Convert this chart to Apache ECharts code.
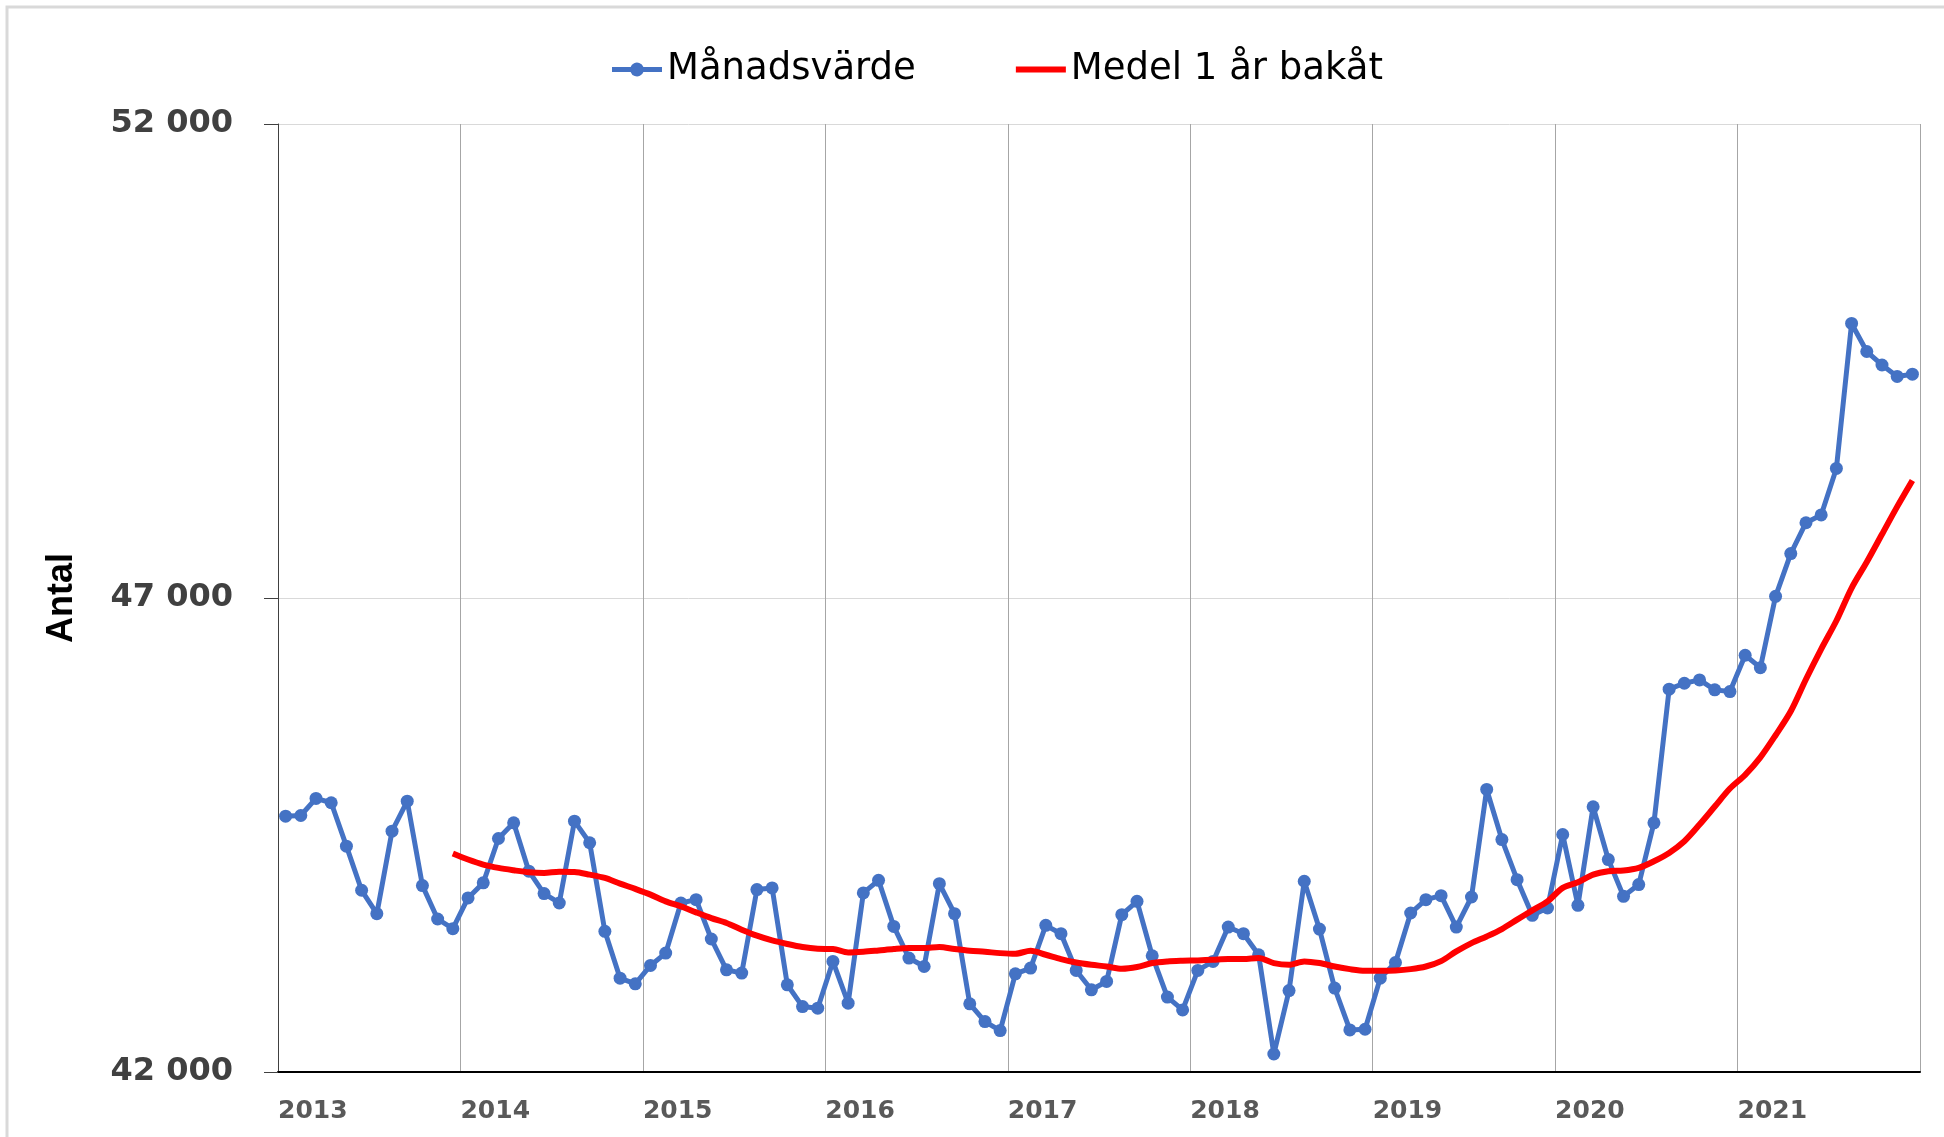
<!DOCTYPE html>
<html>
<head>
<meta charset="utf-8">
<script src="https://cdn.jsdelivr.net/npm/echarts@6/dist/echarts.min.js"></script>
<style>
html,body{margin:0;padding:0;background:#fff;}
#chart{width:1944px;height:1137px;}
</style>
</head>
<body>
<div id="chart"></div>
<script>
// Year tick labels (one per year boundary; last boundary is empty)
const yearLabels = ['2013','2014','2015','2016','2017','2018','2019','2020','2021',''];
const years = ['2013','2014','2015','2016','2017','2018','2019','2020','2021'];
const monthNames = ['jan','feb','mar','apr','maj','jun','jul','aug','sep','okt','nov','dec'];

// Månadsvärde (monthly values, Jan 2013 – Dec 2021)
const monthly2013 = [44699, 44706, 44886, 44840, 44382, 43917, 43670, 44540, 44857, 43966, 43614, 43512];
const monthly2014 = [43836, 43995, 44463, 44628, 44118, 43882, 43783, 44646, 44418, 43484, 42990, 42930];
const monthly2015 = [43124, 43254, 43783, 43818, 43403, 43078, 43043, 43924, 43942, 42920, 42690, 42673];
const monthly2016 = [43166, 42726, 43889, 44022, 43536, 43202, 43113, 43987, 43670, 42719, 42532, 42437];
const monthly2017 = [43036, 43096, 43547, 43459, 43071, 42867, 42955, 43660, 43800, 43226, 42790, 42655];
const monthly2018 = [43071, 43166, 43529, 43459, 43237, 42190, 42859, 44012, 43508, 42885, 42444, 42451];
const monthly2019 = [42990, 43155, 43677, 43818, 43860, 43529, 43846, 44981, 44452, 44029, 43653, 43730];
const monthly2020 = [44505, 43758, 44798, 44241, 43853, 43977, 44628, 46038, 46101, 46136, 46031, 46013];
const monthly2021 = [46396, 46265, 47018, 47469, 47794, 47876, 48367, 49896, 49600, 49458, 49337, 49361];

// Medel 1 år bakåt (starts Dec 2013)
const mean2013 = [null, null, null, null, null, null, null, null, null, null, null, 44304];
const mean2014 = [44241, 44188, 44153, 44128, 44107, 44100, 44113, 44110, 44082, 44047, 43987, 43931];
const mean2015 = [43871, 43800, 43747, 43684, 43624, 43572, 43501, 43438, 43388, 43350, 43318, 43300];
const mean2016 = [43297, 43261, 43268, 43282, 43297, 43307, 43307, 43318, 43297, 43279, 43268, 43254];
const mean2017 = [43247, 43279, 43237, 43191, 43155, 43131, 43113, 43089, 43107, 43149, 43166, 43173];
const mean2018 = [43177, 43184, 43191, 43191, 43202, 43149, 43131, 43166, 43149, 43113, 43085, 43068];
const mean2019 = [43068, 43071, 43085, 43113, 43170, 43272, 43360, 43430, 43508, 43607, 43705, 43800];
const mean2020 = [43942, 44001, 44082, 44118, 44125, 44153, 44223, 44311, 44434, 44610, 44800, 44990];
const mean2021 = [45135, 45319, 45552, 45805, 46143, 46461, 46760, 47105, 47380, 47672, 47964, 48240];

const months = [];
years.forEach(y => monthNames.forEach(m => months.push(m + ' ' + y)));
const monthly = [].concat(monthly2013, monthly2014, monthly2015, monthly2016, monthly2017,
                          monthly2018, monthly2019, monthly2020, monthly2021);
const mean = [].concat(mean2013, mean2014, mean2015, mean2016, mean2017,
                       mean2018, mean2019, mean2020, mean2021);

const fmt = v => String(v).replace(/\B(?=(\d{3})+(?!\d))/g, ' ');

const blueIcon = 'path://M0,4.6H18.6A6.8,6.8 0 0 1 31.4,4.6H50V9.4H31.4A6.8,6.8 0 0 1 18.6,9.4H0Z';
const redIcon = 'path://M0,0H50V6H0Z';

const chart = echarts.init(document.getElementById('chart'), null, {renderer: 'canvas'});
chart.setOption({
  animation: false,
  backgroundColor: '#ffffff',
  graphic: [{
    type: 'rect',
    shape: {x: 7, y: 7, width: 2000, height: 1200},
    style: {fill: 'none', stroke: '#d9d9d9', lineWidth: 3},
    silent: true
  }],
  legend: {
    left: 607,
    top: 46,
    itemWidth: 50,
    itemHeight: 14,
    itemGap: 100,
    symbolKeepAspect: true,
    textStyle: {fontFamily: 'DejaVu Sans', fontSize: 37, color: '#000000'},
    data: [
      {name: 'Månadsvärde', icon: blueIcon, itemStyle: {color: '#4472C4'}},
      {name: 'Medel 1 år bakåt', icon: redIcon, itemStyle: {color: '#FF0000'}}
    ]
  },
  grid: {left: 278, right: 24, top: 124, bottom: 65, containLabel: false},
  xAxis: [{
    type: 'category',
    data: months,
    boundaryGap: true,
    axisLine: {show: false},
    axisTick: {show: false},
    axisLabel: {show: false},
    splitLine: {show: false}
  }, {
    type: 'category',
    data: yearLabels,
    boundaryGap: false,
    position: 'bottom',
    axisLine: {show: true, lineStyle: {color: '#000000', width: 2}},
    axisTick: {show: false},
    axisLabel: {
      interval: 0, align: 'left', margin: 27,
      fontFamily: 'DejaVu Sans', fontWeight: 'bold', fontSize: 25, color: '#595959'
    },
    splitLine: {show: true, interval: 0, lineStyle: {color: '#a6a6a6', width: 1}}
  }],
  yAxis: {
    type: 'value',
    min: 42000, max: 52000, interval: 5000,
    name: 'Antal',
    nameLocation: 'middle',
    nameGap: 198,
    nameTextStyle: {fontFamily: 'Liberation Sans', fontWeight: 'bold', fontSize: 36, color: '#000000'},
    axisLine: {show: true, lineStyle: {color: '#404040', width: 1}},
    axisTick: {show: true, length: 14, lineStyle: {color: '#404040'}},
    axisLabel: {
      margin: 45, formatter: fmt,
      fontFamily: 'DejaVu Sans', fontWeight: 'bold', fontSize: 32, color: '#404040'
    },
    splitLine: {show: true, lineStyle: {color: '#d9d9d9', width: 1}}
  },
  series: [{
    name: 'Månadsvärde',
    type: 'line',
    xAxisIndex: 0,
    data: monthly,
    symbol: 'circle',
    symbolSize: 13,
    showSymbol: true,
    showAllSymbol: true,
    lineStyle: {color: '#4472C4', width: 5},
    itemStyle: {color: '#4472C4'},
    z: 2
  }, {
    name: 'Medel 1 år bakåt',
    type: 'line',
    xAxisIndex: 0,
    data: mean,
    symbol: 'none',
    smooth: 0.3,
    connectNulls: false,
    lineStyle: {color: '#FF0000', width: 6},
    itemStyle: {color: '#FF0000'},
    z: 3
  }]
});
</script>
</body>
</html>
